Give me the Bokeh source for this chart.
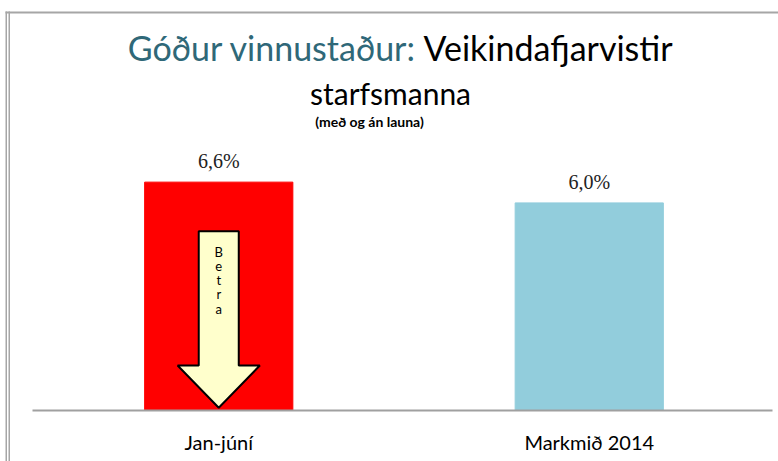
from bokeh.plotting import figure
from bokeh.models import ColumnDataSource, Label, BoxAnnotation, Range1d
from bokeh.core.properties import value
from bokeh.embed import file_html
from bokeh.resources import INLINE

# ---- data ----
categories = ["Jan-júní", "Markmið 2014"]
values = [6.6, 6.0]
value_labels = ["6,6%", "6,0%"]
bar_colors = ["#FF0000", "#92CDDC"]

title_part1 = "Góður vinnustaður:"
title_part2 = "Veikindafjarvistir"
title_line2 = "starfsmanna"
subtitle = "(með og án launa)"
arrow_text = "Betra"

# ---- layout / styling ----
FONT = "Lato"
W, H = 778, 461
BASE_PX = 410          # pixel row of the value axis baseline
PX_PER_UNIT_Y = 34.6
PX_PER_CAT = 370.5
CAT_LEFT_PX = 33

x_start = -CAT_LEFT_PX / PX_PER_CAT
x_end = (W - CAT_LEFT_PX) / PX_PER_CAT
y_start = -(H - BASE_PX) / PX_PER_UNIT_Y
y_end = BASE_PX / PX_PER_UNIT_Y

xpos = [i + 0.5 for i in range(len(categories))]
src = ColumnDataSource(dict(x=xpos, cat=categories, val=values, lab=value_labels,
                            col=bar_colors, zero=[0] * len(values)))

p = figure(width=W, height=H, x_range=Range1d(x_start, x_end), y_range=Range1d(y_start, y_end),
           output_backend="svg", toolbar_location=None,
           min_border_left=0, min_border_right=0, min_border_top=0, min_border_bottom=0)
p.outline_line_color = None
p.background_fill_color = "white"
p.border_fill_color = "white"
p.xgrid.visible = False
p.ygrid.visible = False
p.xaxis.visible = False
p.yaxis.visible = False

p.vbar(x="x", top="val", bottom=0, width=0.4, color="col", source=src)

# baseline (category axis line)
p.segment(x0=[(32 - CAT_LEFT_PX) / PX_PER_CAT], y0=[0], x1=[(772 - CAT_LEFT_PX) / PX_PER_CAT], y1=[0],
          line_color="#A0A0A0", line_width=2)

# value labels
p.text(x="x", y="val", text="lab", source=src, y_offset=-21, text_align="center",
       text_baseline="middle", text_font=value("Liberation Serif"),
       text_font_size="20px", text_color="#222222")

# category labels
p.text(x="x", y="zero", text="cat", source=src, y_offset=31, text_align="center",
       text_baseline="middle", text_font=value(FONT), text_font_size="20px",
       text_color="black")

# arrow decoration on first bar
cx = xpos[0]
shaft_hw, head_hw = 0.054, 0.111
y_shaft_top = values[0] * 0.785
y_shoulder = values[0] * 0.197
y_tip = values[0] * 0.012
ax_xs = [cx - shaft_hw, cx + shaft_hw, cx + shaft_hw, cx + head_hw, cx, cx - head_hw, cx - shaft_hw]
ax_ys = [y_shaft_top, y_shaft_top, y_shoulder, y_shoulder, y_tip, y_shoulder, y_shoulder]
p.patch(ax_xs, ax_ys, fill_color="#FFFFCC", line_color="black", line_width=2)
p.text(x=[cx], y=[values[0] * 0.728], text=["\n".join(arrow_text)], text_align="center",
       text_baseline="top", text_font=value(FONT), text_font_size="13px",
       text_line_height=0.88, text_color="black")

# chart-area border lines (canvas units)
for l, r, t, b in [(5, 6.5, 11, H), (8, 9.5, 11, H), (5, W, 11, 13)]:
    p.add_layout(BoxAnnotation(left=l, right=r, top=t, bottom=b,
                               left_units="canvas", right_units="canvas",
                               top_units="canvas", bottom_units="canvas",
                               fill_color="#A6A6A6", fill_alpha=1, line_color=None))

# titles
p.add_layout(Label(x=416, y=47, x_units="canvas", y_units="canvas", text=title_part1,
                   text_align="right", text_baseline="middle", text_font=FONT,
                   text_font_size="34px", text_color="#2F6878"))
p.add_layout(Label(x=423, y=47, x_units="canvas", y_units="canvas", text=title_part2,
                   text_align="left", text_baseline="middle", text_font=FONT,
                   text_font_size="34px", text_color="black"))
p.add_layout(Label(x=390, y=92, x_units="canvas", y_units="canvas", text=title_line2,
                   text_align="center", text_baseline="middle", text_font=FONT,
                   text_font_size="30px", text_color="black"))
p.add_layout(Label(x=369, y=121, x_units="canvas", y_units="canvas", text=subtitle,
                   text_align="center", text_baseline="middle", text_font=FONT,
                   text_font_size="14px", text_font_style="bold", text_color="black"))

open("out.html", "w").write(file_html(p, INLINE))
